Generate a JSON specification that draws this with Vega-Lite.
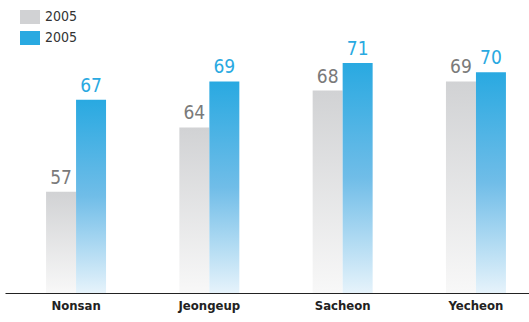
{
  "$schema": "https://vega.github.io/schema/vega-lite/v6.json",
  "width": 542,
  "height": 276,
  "autosize": {"type": "none"},
  "padding": {"left": 5, "top": 17, "right": 0, "bottom": 29},
  "config": {"view": {"stroke": null}, "font": "DejaVu Sans Condensed"},
  "data": {
    "values": [
      {"region": "Nonsan", "series": "A", "value": 57},
      {"region": "Nonsan", "series": "B", "value": 67},
      {"region": "Jeongeup", "series": "A", "value": 64},
      {"region": "Jeongeup", "series": "B", "value": 69},
      {"region": "Sacheon", "series": "A", "value": 68},
      {"region": "Sacheon", "series": "B", "value": 71},
      {"region": "Yecheon", "series": "A", "value": 69},
      {"region": "Yecheon", "series": "B", "value": 70}
    ]
  },
  "encoding": {
    "x": {
      "field": "region", "type": "nominal",
      "sort": ["Nonsan", "Jeongeup", "Sacheon", "Yecheon"],
      "scale": {"paddingInner": 0.55, "paddingOuter": 0.308},
      "axis": {"title": null, "labelAngle": 0, "ticks": false, "labelFontWeight": "bold", "labelFontSize": 13, "labelColor": "#222222", "domainColor": "#222222", "domainWidth": 1.2, "labelPadding": 6}
    },
    "xOffset": {"field": "series", "type": "nominal", "scale": {"domain": ["A", "B"]}},
    "y": {"field": "value", "type": "quantitative", "scale": {"domain": [46, 76], "zero": false, "nice": false}, "axis": null}
  },
  "layer": [
    {
      "transform": [{"filter": "datum.series === 'A'"}],
      "mark": {"type": "bar", "color": {"gradient": "linear", "x1": 0, "y1": 0, "x2": 0, "y2": 1, "stops": [{"offset": 0, "color": "#d1d2d4"}, {"offset": 1, "color": "#f8f8f8"}]}},
      "encoding": {"y2": {"datum": 46}}
    },
    {
      "transform": [{"filter": "datum.series === 'B'"}],
      "mark": {"type": "bar", "color": {"gradient": "linear", "x1": 0, "y1": 0, "x2": 0, "y2": 1, "stops": [{"offset": 0, "color": "#29a9e1"}, {"offset": 0.5, "color": "#70bde8"}, {"offset": 1, "color": "#e6f3fb"}]}},
      "encoding": {"y2": {"datum": 46}}
    },
    {
      "mark": {"type": "text", "dy": -8, "baseline": "alphabetic", "fontSize": 19},
      "encoding": {
        "text": {"field": "value", "type": "quantitative"},
        "color": {"condition": {"test": "datum.series === 'A'", "value": "#7a7a7a"}, "value": "#29a9e1"}
      }
    },
    {
      "mark": {"type": "square", "opacity": 0},
      "encoding": {
        "color": {
          "field": "series", "type": "nominal",
          "scale": {"domain": ["A", "B"], "range": ["#d1d2d4", "#29a9e1"]},
          "legend": {"title": null, "orient": "none", "legendX": 15, "legendY": -10, "symbolType": "M-1,-0.7H1V0.7H-1Z", "symbolSize": 400, "symbolOpacity": 1, "symbolStrokeWidth": 0, "labelExpr": "'2005'", "labelFontSize": 14, "labelColor": "#333333", "rowPadding": 4, "labelOffset": 5}
        }
      }
    }
  ]
}
